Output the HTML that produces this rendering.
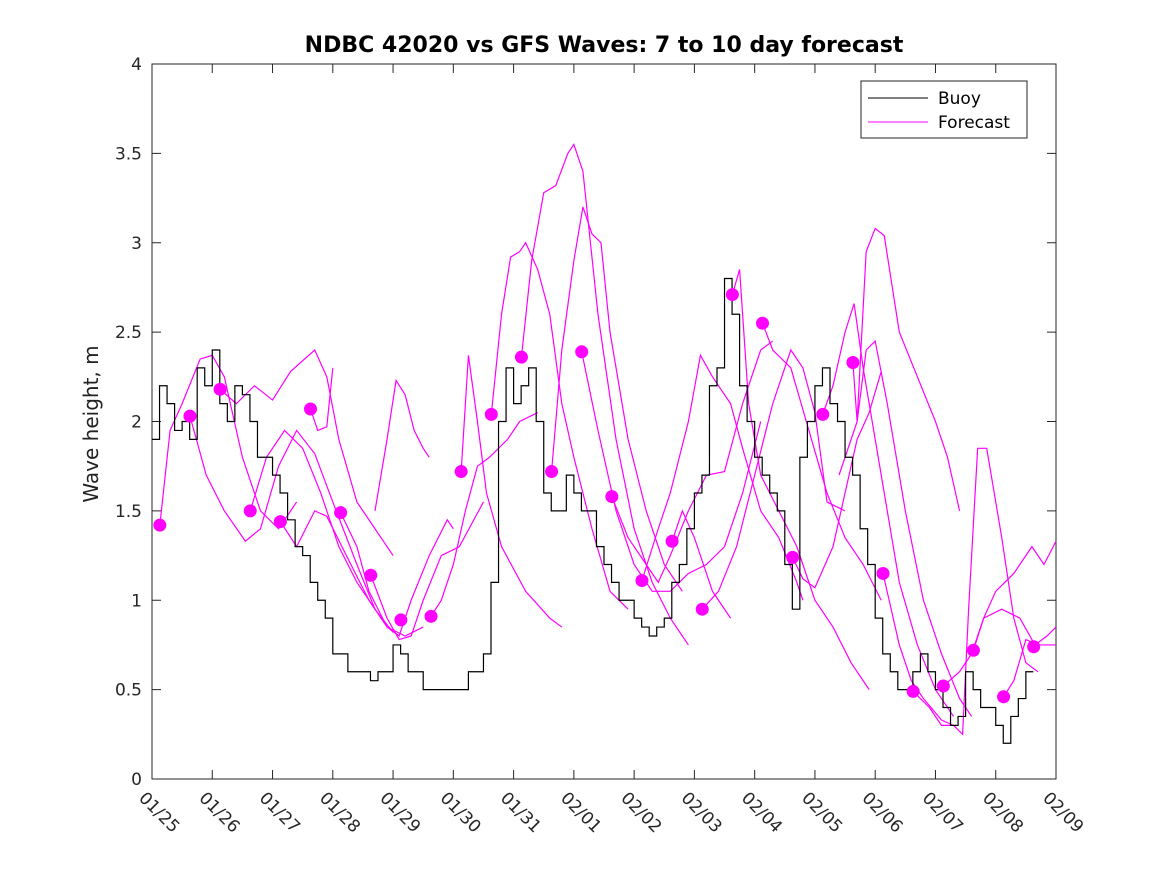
<!DOCTYPE html>
<html><head><meta charset="utf-8"><style>
html,body{margin:0;padding:0;background:#fff;}
svg{display:block;font-family:"DejaVu Sans","Liberation Sans",sans-serif;}
</style></head><body>
<svg id="chart" width="1167" height="875">
<text x="604" y="52" text-anchor="middle" font-size="22" font-weight="bold" fill="#000">NDBC 42020 vs GFS Waves: 7 to 10 day forecast</text>
<text transform="translate(98,424) rotate(-90)" text-anchor="middle" font-size="20" fill="#222">Wave height, m</text>
<g id="plot"></g>
</svg>
<script>
const xTickLabels=["01/25","01/26","01/27","01/28","01/29","01/30","01/31","02/01","02/02","02/03","02/04","02/05","02/06","02/07","02/08","02/09"];
const yTicks=[0,0.5,1,1.5,2,2.5,3,3.5,4];
const yTickLabels=["0","0.5","1","1.5","2","2.5","3","3.5","4"];
const buoyStep=0.125;
const buoyValues=[1.9,2.2,2.1,1.95,2.0,1.9,2.3,2.2, 2.4,2.1,2.0,2.2,2.15,2.0,1.8,1.8, 1.7,1.6,1.45,1.3,1.25,1.1,1.0,0.9, 0.7,0.7,0.6,0.6,0.6,0.55,0.6,0.6, 0.75,0.7,0.6,0.6,0.5,0.5,0.5,0.5, 0.5,0.5,0.6,0.6,0.7,1.1,2.0,2.3, 2.1,2.2,2.3,2.0,1.6,1.5,1.5,1.7, 1.6,1.5,1.5,1.3,1.2,1.1,1.0,1.0, 0.9,0.85,0.8,0.85,0.9,1.1,1.2,1.4, 1.6,1.7,2.2,2.3,2.8,2.6,2.2,2.0, 1.8,1.7,1.6,1.5,1.2,0.95,1.8,2.0, 2.2,2.3,2.1,2.0,1.8,1.7,1.4,1.2, 0.9,0.7,0.6,0.5,0.5,0.6,0.7,0.6, 0.5,0.4,0.3,0.35,0.6,0.5,0.4,0.4, 0.3,0.2,0.35,0.45,0.6];
const dotDays=[0.13,0.63,1.13,1.63,2.13,2.63,3.13,3.63,4.13,4.63,5.13,5.63,6.13,6.63,7.13,7.63,8.13,8.63,9.13,9.63,10.13,10.63,11.13,11.63,12.13,12.63,13.13,13.63,14.13,14.63];
const dotValues=[1.42,2.03,2.18,1.50,1.44,2.07,1.49,1.14,0.89,0.91,1.72,2.04,2.36,1.72,2.39,1.58,1.11,1.33,0.95,2.71,2.55,1.24,2.04,2.33,1.15,0.49,0.52,0.72,0.46,0.74];
const forecasts=[
[[0.13,1.42],[0.3,1.95],[0.5,2.1],[0.8,2.35],[1.0,2.37],[1.2,2.25],[1.5,1.8],[1.8,1.5],[2.1,1.4],[2.4,1.55]],
[[0.63,2.03],[0.9,1.7],[1.2,1.5],[1.55,1.33],[1.8,1.4],[2.1,1.75],[2.4,1.95],[2.7,1.82],[3.0,1.55],[3.4,1.2],[3.7,0.95]],
[[1.13,2.18],[1.4,2.1],[1.7,2.2],[2.0,2.12],[2.3,2.28],[2.7,2.4],[2.9,2.25],[3.1,1.9],[3.4,1.55],[3.7,1.4],[4.0,1.25]],
[[1.63,1.5],[1.9,1.8],[2.2,1.95],[2.5,1.85],[2.8,1.6],[3.1,1.3],[3.4,1.1],[3.7,0.95],[4.0,0.82]],
[[2.13,1.44],[2.4,1.3],[2.7,1.5],[2.9,1.47],[3.3,1.2],[3.6,1.0],[3.9,0.85],[4.2,0.8],[4.5,0.85]],
[[2.63,2.07],[2.75,1.95],[2.9,1.97],[3.0,2.3]],
[[3.13,1.49],[3.4,1.3],[3.6,1.05],[3.9,0.85],[4.1,0.8],[4.3,1.0],[4.6,1.25],[4.9,1.45],[5.0,1.4]],
[[3.63,1.14],[3.9,0.9],[4.1,0.78],[4.3,0.8],[4.5,1.0],[4.8,1.25],[5.1,1.3],[5.5,1.55]],
[[3.7,1.5],[3.9,1.9],[4.05,2.23],[4.2,2.15],[4.35,1.95],[4.5,1.85],[4.6,1.8]],
[[4.63,0.91],[4.8,1.0],[5.0,1.2],[5.2,1.5],[5.4,1.75],[5.6,1.8],[5.9,1.9],[6.1,2.0],[6.4,2.05]],
[[5.13,1.72],[5.25,2.37],[5.4,2.0],[5.55,1.6],[5.8,1.3],[6.2,1.05],[6.6,0.9],[6.8,0.85]],
[[5.63,2.04],[5.8,2.6],[5.95,2.92],[6.1,2.95],[6.2,3.0],[6.4,2.85],[6.6,2.6],[6.8,2.1],[7.0,1.8],[7.3,1.4],[7.6,1.05],[7.9,0.95]],
[[6.13,2.36],[6.3,2.9],[6.5,3.28],[6.7,3.32],[6.9,3.5],[7.0,3.55],[7.15,3.4],[7.4,2.6],[7.7,1.9],[8.0,1.4],[8.3,1.1],[8.6,0.9],[8.9,0.75]],
[[6.63,1.72],[6.8,2.4],[7.0,2.9],[7.15,3.2],[7.3,3.05],[7.45,3.0],[7.6,2.5],[7.9,1.9],[8.2,1.5],[8.5,1.2],[8.8,1.05]],
[[7.13,2.39],[7.4,1.95],[7.7,1.5],[8.0,1.2],[8.3,1.05],[8.6,1.05],[8.9,1.15],[9.2,1.2],[9.5,1.3],[9.8,1.6],[10.1,2.0]],
[[7.63,1.58],[7.9,1.35],[8.2,1.2],[8.4,1.1],[8.6,1.25],[8.9,1.5],[9.2,1.7],[9.5,1.72],[9.8,2.1],[10.1,2.4],[10.3,2.45]],
[[8.13,1.11],[8.4,1.4],[8.6,1.6],[8.9,2.0],[9.1,2.37],[9.3,2.25],[9.6,2.1],[9.8,1.85],[10.1,1.5],[10.4,1.35],[10.7,1.1],[10.8,1.0]],
[[8.63,1.33],[8.8,1.5],[9.0,1.35],[9.3,1.05],[9.6,0.9]],
[[9.13,0.95],[9.4,1.05],[9.7,1.3],[10.0,1.7],[10.3,2.1],[10.6,2.4],[10.8,2.3],[11.0,2.05],[11.2,1.55],[11.5,1.5]],
[[9.63,2.71],[9.75,2.85],[9.9,2.1],[10.1,1.7],[10.4,1.5],[10.7,1.3],[11.0,1.0],[11.3,0.85],[11.6,0.65],[11.9,0.5]],
[[10.13,2.55],[10.3,2.4],[10.6,2.3],[10.9,1.95],[11.2,1.6],[11.5,1.35],[11.8,1.2],[12.1,1.0]],
[[10.63,1.24],[10.8,1.12],[11.0,1.07],[11.3,1.3],[11.5,1.6],[11.7,1.9],[11.9,2.05],[12.1,2.28]],
[[11.13,2.04],[11.3,2.2],[11.5,2.5],[11.65,2.66],[11.8,2.3],[12.1,1.7],[12.4,1.1],[12.7,0.75],[13.0,0.5],[13.3,0.35]],
[[11.63,2.33],[11.7,2.0],[11.85,2.4],[12.0,2.45],[12.2,2.1],[12.5,1.5],[12.8,1.0],[13.1,0.7],[13.4,0.45],[13.6,0.35]],
[[12.13,1.15],[12.4,0.75],[12.6,0.55],[12.8,0.45],[13.1,0.33],[13.3,0.3]],
[[11.4,1.7],[11.7,2.0],[11.85,2.95],[12.0,3.08],[12.15,3.04],[12.4,2.5],[12.7,2.25],[13.0,2.0],[13.2,1.8],[13.4,1.5]],
[[12.63,0.49],[12.9,0.4],[13.1,0.3],[13.3,0.3],[13.45,0.25],[13.55,0.95],[13.7,1.85],[13.85,1.85],[14.1,1.35],[14.3,0.9],[14.5,0.65],[14.7,0.6]],
[[13.13,0.52],[13.4,0.6],[13.6,0.7],[13.8,0.9],[14.1,0.95],[14.4,0.9],[14.65,0.75],[14.85,0.8],[15,0.85]],
[[13.63,0.72],[13.8,0.9],[14.0,1.05],[14.3,1.15],[14.6,1.3],[14.8,1.2],[15,1.33]],
[[14.13,0.46],[14.3,0.55],[14.5,0.78],[14.7,0.75],[15,0.75]]
];
const X0=152,X1=1056,Y0=779,Y1=64;
const xs=d=>X0+d*(X1-X0)/15;
const ys=v=>Y0-v*(Y0-Y1)/4;
const NS="http://www.w3.org/2000/svg";
const g=document.getElementById('plot');
function mk(t,a){const e=document.createElementNS(NS,t);for(const k in a)e.setAttribute(k,a[k]);g.appendChild(e);return e;}
const box=mk('rect',{x:X0,y:Y1,width:X1-X0,height:Y0-Y1,fill:'none',stroke:'#262626','stroke-width':1});


yTicks.forEach((v,i)=>{
  const y=ys(v);
  mk('line',{x1:X0,x2:X0+9,y1:y,y2:y,stroke:'#262626'});
  mk('line',{x1:X1,x2:X1-9,y1:y,y2:y,stroke:'#262626'});
  const t=mk('text',{x:X0-10,y:y+6,'text-anchor':'end','font-size':17,fill:'#262626'});
  t.textContent=yTickLabels[i];
  
  
});
xTickLabels.forEach((lab,i)=>{
  const x=xs(i);
  mk('line',{x1:x,x2:x,y1:Y0,y2:Y0-9,stroke:'#262626'});
  mk('line',{x1:x,x2:x,y1:Y1,y2:Y1+9,stroke:'#262626'});
  const t=mk('text',{transform:`translate(${x-14},${Y0+20}) rotate(45)`,'font-size':17,fill:'#262626'});
  t.textContent=lab;
  
  
});
forecasts.forEach(f=>{
  const p=mk('polyline',{points:f.map(q=>xs(q[0])+','+ys(q[1])).join(' '),fill:'none',stroke:'#ff00ff','stroke-width':1.2});
  
  
});
let pts=[];
buoyValues.forEach((v,i)=>{const x0=xs(i*buoyStep),x1=xs((i+1)*buoyStep);pts.push(x0+','+ys(v));pts.push(x1+','+ys(v));});
const b=mk('polyline',{points:pts.join(' '),fill:'none',stroke:'#000','stroke-width':1.2});


dotDays.forEach((d,i)=>{
  const c=mk('circle',{cx:xs(d),cy:ys(dotValues[i]),r:6.5,fill:'#ff00ff'});
  
  
});
const lg=mk('rect',{x:861,y:81,width:166,height:57,fill:'#fff',stroke:'#262626'});


mk('line',{x1:868,x2:928,y1:98,y2:98,stroke:'#000'});
mk('line',{x1:868,x2:928,y1:122,y2:122,stroke:'#ff00ff'});
const t1=mk('text',{x:938,y:104,'font-size':17,fill:'#000'});t1.textContent='Buoy';


const t2=mk('text',{x:938,y:128,'font-size':17,fill:'#000'});t2.textContent='Forecast';


</script>
</body></html>
